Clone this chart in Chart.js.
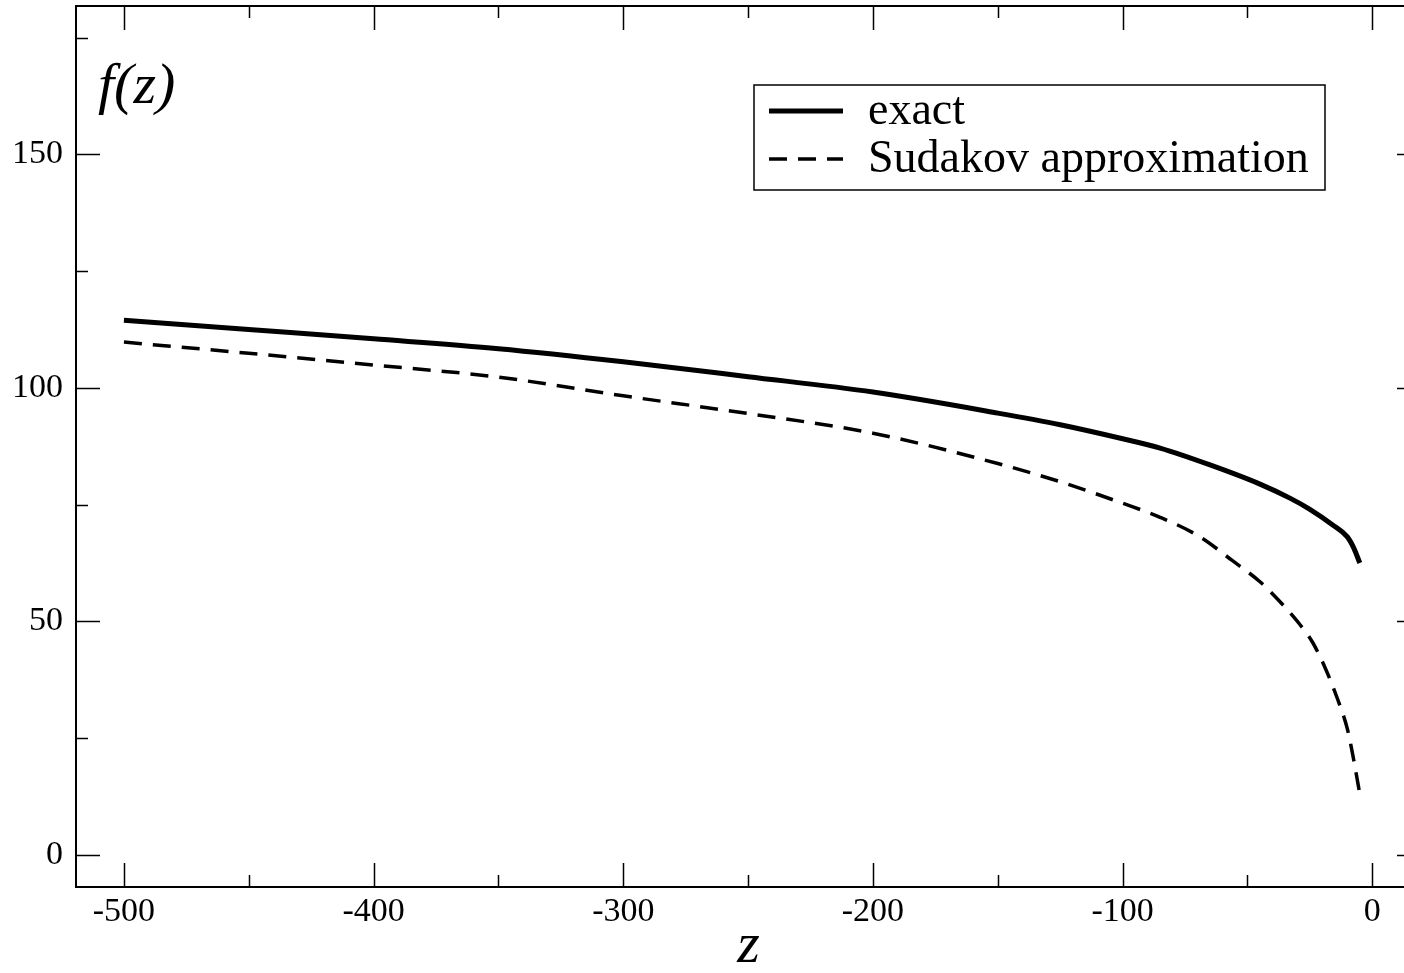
<!DOCTYPE html>
<html>
<head>
<meta charset="utf-8">
<title>f(z)</title>
<script src="https://cdn.jsdelivr.net/npm/chart.js@4.4.1/dist/chart.umd.min.js"></script>
<style>
  html, body { margin: 0; padding: 0; background: #fff; overflow: hidden; }
  #fz-chart { display: block; }
</style>
</head>
<body>
<canvas id="fz-chart" width="1424" height="973"></canvas>
<script>
  'use strict';

  // data
  const zExact = [-500, -450, -400, -350, -300, -250, -200, -150, -125, -100, -85, -65, -45, -33, -25, -16, -10, -7.5, -5];
  const fExact = [114.5, 112.5, 110.5, 108.4, 105.6, 102.4, 99.1, 94.6, 92.1, 89.1, 87.1, 83.5, 79.4, 76.4, 74.0, 70.7, 68.1, 65.8, 62.5];

  const zSudakov = [-500, -450, -400, -350, -300, -250, -200, -150, -125, -100, -85, -69, -56, -45, -38, -30, -24, -19, -14, -10, -7.5, -5];
  const fSudakov = [109.8, 107.4, 104.9, 102.3, 98.3, 94.5, 90.3, 83.8, 79.9, 75.3, 72.3, 68.1, 63.0, 58.5, 54.8, 50.0, 45.6, 40.2, 33.5, 27.0, 20.5, 13.0];

  const xTicks = [-500, -400, -300, -200, -100, 0];
  const xMinorTicks = [-450, -350, -250, -150, -50];
  const yTicks = [0, 50, 100, 150];
  const yMinorTicks = [25, 75, 125, 175];

  const serif = "'Liberation Serif', 'DejaVu Serif', serif";

  const toPoints = (xs, ys) => xs.map((v, i) => ({x: v, y: ys[i]}));

  // frame with inward ticks on all four sides, like the old xmgrace plots
  const frameTicks = {
    id: 'frameTicks',
    afterDraw(chart) {
      const {ctx, chartArea: a} = chart;
      const x = chart.scales.x, y = chart.scales.y;
      ctx.save();
      ctx.strokeStyle = '#000';
      ctx.lineWidth = 2;
      ctx.strokeRect(a.left, a.top, a.right - a.left, a.bottom - a.top);
      ctx.lineWidth = 1.5;
      ctx.beginPath();
      const xTick = (v, len) => {
        const px = Math.round(x.getPixelForValue(v)) + 0.5;
        ctx.moveTo(px, a.bottom); ctx.lineTo(px, a.bottom - len);
        ctx.moveTo(px, a.top); ctx.lineTo(px, a.top + len);
      };
      const yTick = (v, len) => {
        const py = Math.round(y.getPixelForValue(v)) + 0.5;
        ctx.moveTo(a.left, py); ctx.lineTo(a.left + len, py);
        ctx.moveTo(a.right, py); ctx.lineTo(a.right - len, py);
      };
      xTicks.forEach(v => xTick(v, 24));
      xMinorTicks.forEach(v => xTick(v, 12));
      yTicks.forEach(v => yTick(v, 24));
      yMinorTicks.forEach(v => yTick(v, 12));
      ctx.stroke();

      // f(z) label inside the frame
      ctx.fillStyle = '#000';
      ctx.font = 'italic 58px ' + serif;
      ctx.textAlign = 'left';
      ctx.textBaseline = 'alphabetic';
      ctx.fillText('f(z)', a.left + 22, 103);
      ctx.restore();
    }
  };

  // boxed legend in the top right corner
  const boxLegend = {
    id: 'boxLegend',
    afterDraw(chart) {
      const ctx = chart.ctx;
      const box = {left: 754, top: 85, right: 1325, bottom: 190};
      ctx.save();
      ctx.fillStyle = '#fff';
      ctx.fillRect(box.left, box.top, box.right - box.left, box.bottom - box.top);
      ctx.strokeStyle = '#000';
      ctx.lineWidth = 1.5;
      ctx.strokeRect(box.left, box.top, box.right - box.left, box.bottom - box.top);
      chart.data.datasets.forEach((ds, i) => {
        const base = 124 + i * 48;
        ctx.beginPath();
        ctx.lineWidth = ds.borderWidth;
        ctx.setLineDash(ds.borderDash || []);
        ctx.moveTo(769, base - 13);
        ctx.lineTo(843, base - 13);
        ctx.stroke();
        ctx.setLineDash([]);
        ctx.fillStyle = '#000';
        ctx.font = '46px ' + serif;
        ctx.textBaseline = 'alphabetic';
        ctx.fillText(ds.label, 868, base);
      });
      ctx.restore();
    }
  };

  new Chart(document.getElementById('fz-chart'), {
    type: 'line',
    data: {
      datasets: [
        {
          label: 'exact',
          data: toPoints(zExact, fExact),
          borderColor: '#000',
          borderWidth: 5,
          pointRadius: 0,
          fill: false,
          cubicInterpolationMode: 'monotone'
        },
        {
          label: 'Sudakov approximation',
          data: toPoints(zSudakov, fSudakov),
          borderColor: '#000',
          borderWidth: 3.5,
          borderDash: [18, 11],
          pointRadius: 0,
          fill: false,
          cubicInterpolationMode: 'monotone'
        }
      ]
    },
    options: {
      responsive: false,
      animation: false,
      devicePixelRatio: 1,
      layout: {
        padding: {top: 6, right: 3, left: 0, bottom: 0}
      },
      scales: {
        x: {
          type: 'linear',
          position: 'bottom',
          min: -519.2,
          max: 19.5,
          afterBuildTicks: s => { s.ticks = xTicks.map(v => ({value: v})); },
          afterFit: s => { s.height = 86; s.paddingLeft = 0; s.paddingRight = 0; },
          border: { display: false },
          grid: { display: false, drawTicks: false },
          ticks: {
            color: '#000',
            padding: 5,
            maxRotation: 0,
            font: { family: serif, size: 34 }
          },
          title: {
            display: true,
            text: 'z',
            color: '#000',
            padding: {top: 0, bottom: -9},
            font: { family: serif, size: 58, style: 'italic' }
          }
        },
        y: {
          type: 'linear',
          position: 'left',
          min: -6.85,
          max: 181.75,
          afterBuildTicks: s => { s.ticks = yTicks.map(v => ({value: v})); },
          afterFit: s => { s.width = 76; s.paddingTop = 0; s.paddingBottom = 0; },
          border: { display: false },
          grid: { display: false, drawTicks: false },
          ticks: {
            color: '#000',
            padding: 13,
            font: { family: serif, size: 34 }
          }
        }
      },
      plugins: {
        legend: { display: false },
        tooltip: { enabled: false }
      }
    },
    plugins: [frameTicks, boxLegend]
  });
</script>
</body>
</html>
